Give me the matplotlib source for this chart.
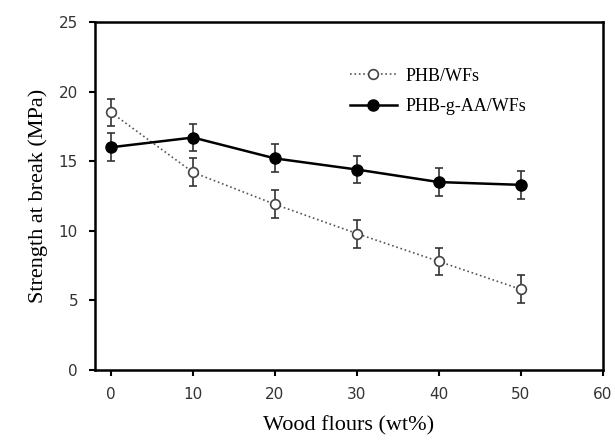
import matplotlib
matplotlib.use('Agg')
import matplotlib.pyplot as plt
from matplotlib.lines import Line2D

# Data
wood_flour = [0, 10, 20, 30, 40, 50]
phb_wf = [18.5, 14.2, 11.9, 9.8, 7.8, 5.8]
phb_wf_err = [1.0, 1.0, 1.0, 1.0, 1.0, 1.0]
phb_g_aa_wf = [16.0, 16.7, 15.2, 14.4, 13.5, 13.3]
phb_g_aa_wf_err = [1.0, 1.0, 1.0, 1.0, 1.0, 1.0]

x_ticks = [0, 10, 20, 30, 40, 50, 60]
y_ticks = [0, 5, 10, 15, 20, 25]

serif = ['Liberation Serif', 'DejaVu Serif']

fig = plt.figure(figsize=(6.15, 4.48), dpi=100)
ax = fig.add_axes([0.154, 0.174, 0.826, 0.777])

ax.errorbar(wood_flour, phb_wf, yerr=phb_wf_err, fmt='o', linestyle=':', color='#555555',
            mfc='white', mec='#444444', ms=7, mew=1.2, lw=1.2, ecolor='#333333',
            elinewidth=1.2, capsize=3, capthick=1.2, zorder=3)
ax.errorbar(wood_flour, phb_g_aa_wf, yerr=phb_g_aa_wf_err, fmt='o', linestyle='-', color='black',
            mfc='black', mec='black', ms=8, lw=1.8, ecolor='#333333',
            elinewidth=1.2, capsize=3, capthick=1.2, zorder=4)

ax.set_xlim(-2, 60)
ax.set_ylim(0, 25)
ax.set_xticks(x_ticks)
ax.set_yticks(y_ticks)
ax.tick_params(direction='out', length=4, width=1.5, labelsize=11, labelcolor='#333333', pad=8)
for s in ax.spines.values():
    s.set_linewidth(1.8)

ax.set_xlabel('Wood flours (wt%)', fontsize=16, family=serif, labelpad=10)
ax.set_ylabel('Strength at break (MPa)', fontsize=16, family=serif, labelpad=8)

handles = [
    Line2D([], [], linestyle=':', color='#555555', lw=1.2, marker='o', mfc='white',
           mec='#444444', ms=7, mew=1.2),
    Line2D([], [], linestyle='-', color='black', lw=1.8, marker='o', mfc='black',
           mec='black', ms=8),
]
ax.legend(handles, ['PHB/WFs', 'PHB-g-AA/WFs'], loc='upper left',
          bbox_to_anchor=(0.47, 0.915), frameon=False,
          prop={'family': serif, 'size': 13}, handlelength=2.6, handletextpad=0.5,
          labelspacing=0.75)

fig.savefig('out.png', dpi=100)
